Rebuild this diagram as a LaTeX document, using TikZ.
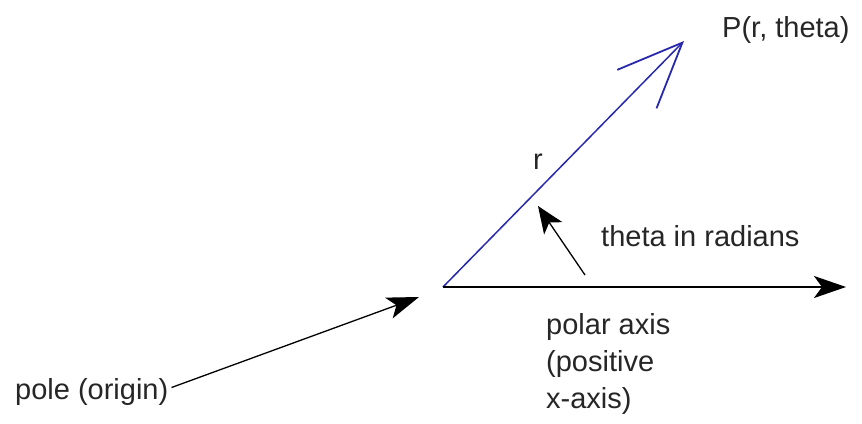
\documentclass[tikz,border=0pt]{standalone}
\usepackage{fontspec}
\setmainfont{Liberation Sans}
\usetikzlibrary{arrows.meta}
\definecolor{rayblue}{RGB}{40,40,175}
\begin{document}
\begin{tikzpicture}[x=1pt,y=-1pt,
  lbl/.style={inner sep=0pt,font=\fontsize{29}{37}\selectfont,text=black!85},
  blackarrow/.style={draw=black,line width=1.5pt,-{Stealth[length=32pt,width=22pt,inset=8pt]}},
  ray/.style={draw=rayblue,line width=1.5pt,-{Straight Barb[length=65pt,width=55pt,line width=1.8pt]}}]
\useasboundingbox (0,0) rectangle (862,423);
\coordinate (O) at (443,287);
\coordinate (P) at (684,41);
\coordinate (X) at (846,287);
\coordinate (poletip) at (419,297);
\coordinate (thtail) at (585,275);
\coordinate (thtip) at (538,206);
\node[lbl,anchor=base west] (plabel) at (722,37) {P(r, theta)};
\node[lbl,anchor=base west] (rlabel) at (533,169) {r};
\node[lbl,anchor=base west] (theta) at (601,246) {theta in radians};
\node[lbl,anchor=base west] (pole) at (15,399) {pole (origin)};
\node[lbl,anchor=north west,align=left] (polar) at (546,313) {polar axis\\(positive\\x-axis)};
\draw[ray] (O) -- (P);
\draw[blackarrow,line width=2pt] (O) -- (X);
\draw[blackarrow,line width=1.3pt] (pole.east) ++(3,-4) coordinate (polestart) -- (poletip);
\draw[blackarrow,line width=1.3pt,-{Stealth[length=27pt,width=22pt,inset=7pt]}] (thtail) -- (thtip);
\end{tikzpicture}
\end{document}
